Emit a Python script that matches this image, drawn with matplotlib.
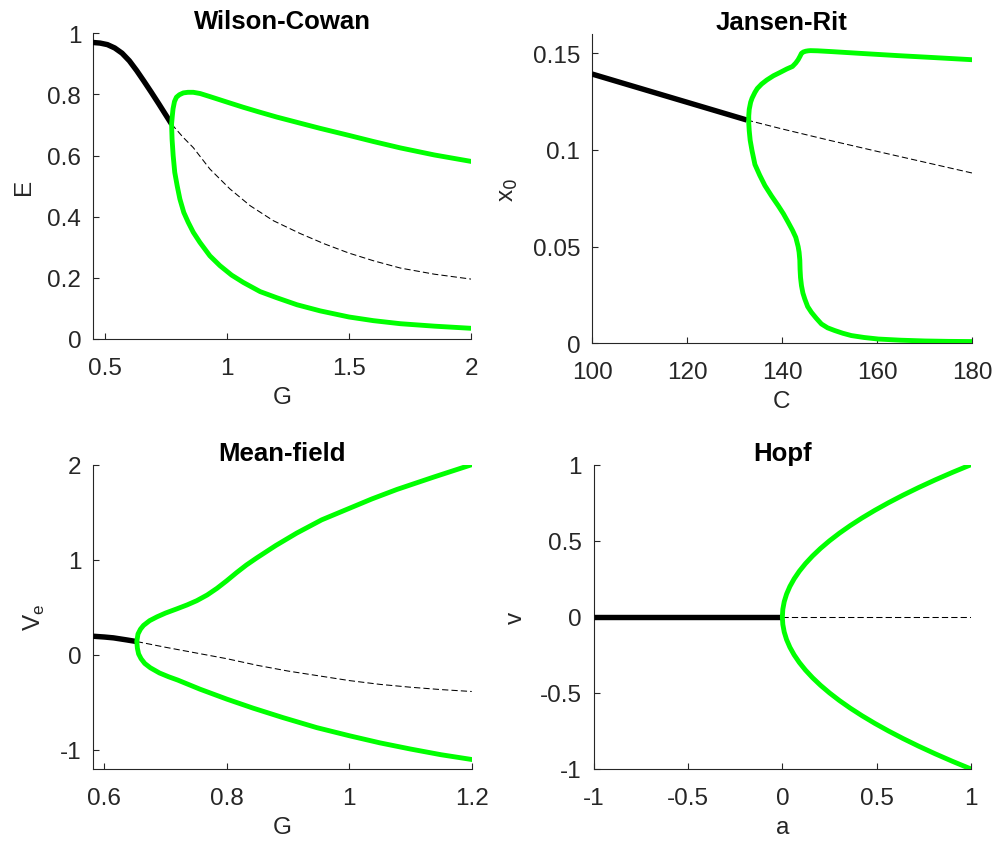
import matplotlib
matplotlib.use("Agg")
import matplotlib.pyplot as plt

plt.rcParams['font.family'] = ['Liberation Sans', 'DejaVu Sans']

GREEN = '#00ff00'
AX_COL = '#262626'

# ---------------- Wilson-Cowan ----------------
wc_stable_G = [0.451, 0.48, 0.51, 0.54, 0.57, 0.60, 0.63, 0.66, 0.69, 0.72, 0.75, 0.773]
wc_stable_E = [0.970, 0.968, 0.963, 0.952, 0.935, 0.910, 0.878, 0.843, 0.807, 0.770, 0.732, 0.703]
wc_unst_G = [0.773, 0.82, 0.862, 0.93, 1.012, 1.095, 1.19, 1.3, 1.4, 1.5, 1.6, 1.711, 1.85, 2.0]
wc_unst_E = [0.703, 0.660, 0.626, 0.556, 0.491, 0.436, 0.387, 0.345, 0.311, 0.281, 0.256, 0.232,
             0.212, 0.196]
wc_cyc_G = [2.0, 1.85, 1.711, 1.6, 1.5, 1.382, 1.3, 1.204, 1.13, 1.067, 1.0, 0.93, 0.89, 0.862,
            0.84, 0.821, 0.805, 0.793, 0.785, 0.779, 0.776, 0.773,
            0.775, 0.7795, 0.786, 0.796, 0.807, 0.823, 0.841, 0.862, 0.889, 0.93, 0.971, 1.019,
            1.067, 1.136, 1.204, 1.287, 1.382, 1.5, 1.6, 1.711, 1.85, 2.0]
wc_cyc_E = [0.581, 0.602, 0.625, 0.646, 0.666, 0.689, 0.706, 0.726, 0.743, 0.758, 0.775, 0.793,
            0.803, 0.807, 0.807, 0.805, 0.799, 0.791, 0.777, 0.753, 0.730, 0.703,
            0.654, 0.600, 0.545, 0.501, 0.458, 0.414, 0.382, 0.349, 0.316, 0.272, 0.240, 0.209,
            0.185, 0.155, 0.135, 0.112, 0.092, 0.072, 0.060, 0.050, 0.042, 0.035]

# ---------------- Jansen-Rit ----------------
jr_stable_C = [100, 110, 120, 132.6]
jr_stable_x = [0.1393, 0.1320, 0.1247, 0.1155]
jr_unst_C = [132.6, 140, 150, 160, 170, 180]
jr_unst_x = [0.1155, 0.1109, 0.1050, 0.0993, 0.0937, 0.0881]
jr_cyc_C = [180, 172, 164.5, 157, 150.4, 147.5, 146.0, 145.5, 145.0, 144.5, 144.1, 143.8, 143.4,
            142.9, 142.2, 141.0, 139.5, 138.2, 136.8, 135.7, 134.8, 134.3, 133.7, 133.4, 133.1,
            133.0, 133.0, 133.1, 133.3, 133.7, 134.3, 135.3, 136.4, 137.8, 139.2, 140.3,
            141.3, 142.2, 142.9, 143.4, 143.6, 143.75, 143.8, 143.9, 144.1, 144.4, 144.8, 145.4,
            146.2, 147.2, 148.3, 149.6, 151.1, 152.8, 154.6, 157.3, 160.3, 165, 170.1, 175, 180]
jr_cyc_x = [0.1467, 0.1478, 0.1488, 0.1499, 0.1509, 0.1513, 0.1514, 0.1513, 0.1511, 0.1507,
            0.1500, 0.1485, 0.1467, 0.1450, 0.1432, 0.1419, 0.1400, 0.1384, 0.1362, 0.1341,
            0.1318, 0.1298, 0.1268, 0.1247, 0.1210, 0.1177, 0.1140, 0.1100, 0.1050, 0.0995,
            0.0925, 0.0870, 0.0816, 0.0762, 0.0712, 0.0670, 0.0626, 0.0585, 0.0548,
            0.0500, 0.0471, 0.0430, 0.0384, 0.0340, 0.0298, 0.0260, 0.0229, 0.0190, 0.0160,
            0.0130, 0.0100, 0.0080, 0.0066, 0.0052, 0.0040, 0.0030, 0.0022, 0.0016, 0.0012,
            0.0010, 0.0009]

# ---------------- Mean-field ----------------
mf_stable_G = [0.582, 0.6, 0.615, 0.636, 0.653]
mf_stable_V = [0.196, 0.188, 0.179, 0.158, 0.14]
mf_unst_G = [0.653, 0.7, 0.75, 0.8, 0.85, 0.9, 0.95, 1.0, 1.05, 1.1, 1.15, 1.2]
mf_unst_V = [0.14, 0.08, 0.02, -0.04, -0.11, -0.17, -0.22, -0.27, -0.31, -0.34, -0.365, -0.385]
mf_cyc_G = [1.2, 1.138, 1.078, 1.037, 0.996, 0.955, 0.914, 0.88, 0.849, 0.832, 0.816, 0.80,
            0.784, 0.768, 0.751, 0.735, 0.718, 0.70, 0.686, 0.674, 0.664, 0.659, 0.655, 0.653,
            0.654, 0.656, 0.660, 0.666, 0.675, 0.69, 0.705, 0.72, 0.756, 0.8, 0.843, 0.892,
            0.947, 1.0, 1.05, 1.1, 1.15, 1.2]
mf_cyc_V = [2.0, 1.87, 1.74, 1.64, 1.53, 1.42, 1.28, 1.15, 1.02, 0.945, 0.865, 0.78,
            0.70, 0.63, 0.57, 0.525, 0.483, 0.44, 0.40, 0.36, 0.31, 0.27, 0.22, 0.14,
            0.07, 0.01, -0.04, -0.09, -0.135, -0.19, -0.23, -0.265, -0.36, -0.465, -0.56,
            -0.66, -0.765, -0.85, -0.925, -0.99, -1.05, -1.10]

# ---------------- Hopf ----------------
hp_stable_a = [-1.0, 0.0]
hp_stable_v = [0.0, 0.0]
hp_unst_a = [0.0, 1.0]
hp_unst_v = [0.0, 0.0]
hp_cyc_a = [1.0, 0.9025, 0.81, 0.7225, 0.64, 0.5625, 0.49, 0.4225, 0.36, 0.3025, 0.25, 0.2025,
            0.16, 0.1225, 0.09, 0.0625, 0.04, 0.0225, 0.01, 0.0025, 0.0,
            0.0025, 0.01, 0.0225, 0.04, 0.0625, 0.09, 0.1225, 0.16, 0.2025, 0.25, 0.3025, 0.36,
            0.4225, 0.49, 0.5625, 0.64, 0.7225, 0.81, 0.9025, 1.0]
hp_cyc_v = [1.0, 0.95, 0.9, 0.85, 0.8, 0.75, 0.7, 0.65, 0.6, 0.55, 0.5, 0.45,
            0.4, 0.35, 0.3, 0.25, 0.2, 0.15, 0.1, 0.05, 0.0,
            -0.05, -0.1, -0.15, -0.2, -0.25, -0.3, -0.35, -0.4, -0.45, -0.5, -0.55, -0.6,
            -0.65, -0.7, -0.75, -0.8, -0.85, -0.9, -0.95, -1.0]

W, H = 998, 845
fig = plt.figure(figsize=(W / 100, H / 100), dpi=100)


def rect(l, r, t, b):
    return [l / W, 1 - b / H, (r - l) / W, (b - t) / H]


panels = [
    dict(rect=rect(93, 471, 34.3, 340), title='Wilson-Cowan', xlabel='G', ylabel='E',
         xlim=(0.451, 2), ylim=(0, 1),
         xt=[0.5, 1, 1.5, 2], xtl=['0.5', '1', '1.5', '2'],
         yt=[0, 0.2, 0.4, 0.6, 0.8, 1], ytl=['0', '0.2', '0.4', '0.6', '0.8', '1'],
         st=(wc_stable_G, wc_stable_E), un=(wc_unst_G, wc_unst_E), cy=(wc_cyc_G, wc_cyc_E)),
    dict(rect=rect(592, 972, 35, 344.3), title='Jansen-Rit', xlabel='C', ylabel='x$_0$',
         xlim=(100, 180), ylim=(0, 0.16),
         xt=[100, 120, 140, 160, 180], xtl=['100', '120', '140', '160', '180'],
         yt=[0, 0.05, 0.1, 0.15], ytl=['0', '0.05', '0.1', '0.15'],
         st=(jr_stable_C, jr_stable_x), un=(jr_unst_C, jr_unst_x), cy=(jr_cyc_C, jr_cyc_x)),
    dict(rect=rect(93.3, 471.7, 465.7, 770), title='Mean-field', xlabel='G', ylabel='V$_\\mathregular{e}$',
         xlim=(0.582, 1.2), ylim=(-1.2, 2),
         xt=[0.6, 0.8, 1, 1.2], xtl=['0.6', '0.8', '1', '1.2'],
         yt=[-1, 0, 1, 2], ytl=['-1', '0', '1', '2'],
         st=(mf_stable_G, mf_stable_V), un=(mf_unst_G, mf_unst_V), cy=(mf_cyc_G, mf_cyc_V)),
    dict(rect=rect(593.7, 971, 465.7, 770), title='Hopf', xlabel='a', ylabel='v',
         xlim=(-1, 1), ylim=(-1, 1),
         xt=[-1, -0.5, 0, 0.5, 1], xtl=['-1', '-0.5', '0', '0.5', '1'],
         yt=[-1, -0.5, 0, 0.5, 1], ytl=['-1', '-0.5', '0', '0.5', '1'],
         st=(hp_stable_a, hp_stable_v), un=(hp_unst_a, hp_unst_v), cy=(hp_cyc_a, hp_cyc_v)),
]

for p in panels:
    ax = fig.add_axes(p['rect'])
    ax.plot(*p['un'], color='black', lw=0.75, dashes=(6, 3), zorder=2)
    ax.plot(*p['st'], color='black', lw=3.9, solid_capstyle='butt', solid_joinstyle='round',
            zorder=3)
    ax.plot(*p['cy'], color=GREEN, lw=3.5, solid_joinstyle='round', zorder=4)
    ax.set_xlim(*p['xlim'])
    ax.set_ylim(*p['ylim'])
    ax.set_xticks(p['xt'])
    ax.set_xticklabels(p['xtl'])
    ax.set_yticks(p['yt'])
    ax.set_yticklabels(p['ytl'])
    for s in ['top', 'right']:
        ax.spines[s].set_visible(False)
    for s in ['left', 'bottom']:
        ax.spines[s].set_color(AX_COL)
        ax.spines[s].set_linewidth(0.8)
    ax.tick_params(axis='both', direction='in', length=4, width=0.8, color=AX_COL,
                   labelcolor=AX_COL, labelsize=17.5)
    ax.tick_params(axis='x', pad=13)
    ax.tick_params(axis='y', pad=8.5)
    ax.set_title(p['title'], fontsize=18.5, fontweight='bold', pad=3.5)
    ax.set_xlabel(p['xlabel'], fontsize=17.5, color=AX_COL, labelpad=5)
    ax.set_ylabel(p['ylabel'], fontsize=17.5, color=AX_COL, labelpad=9)

fig.savefig('out.png', dpi=100)
